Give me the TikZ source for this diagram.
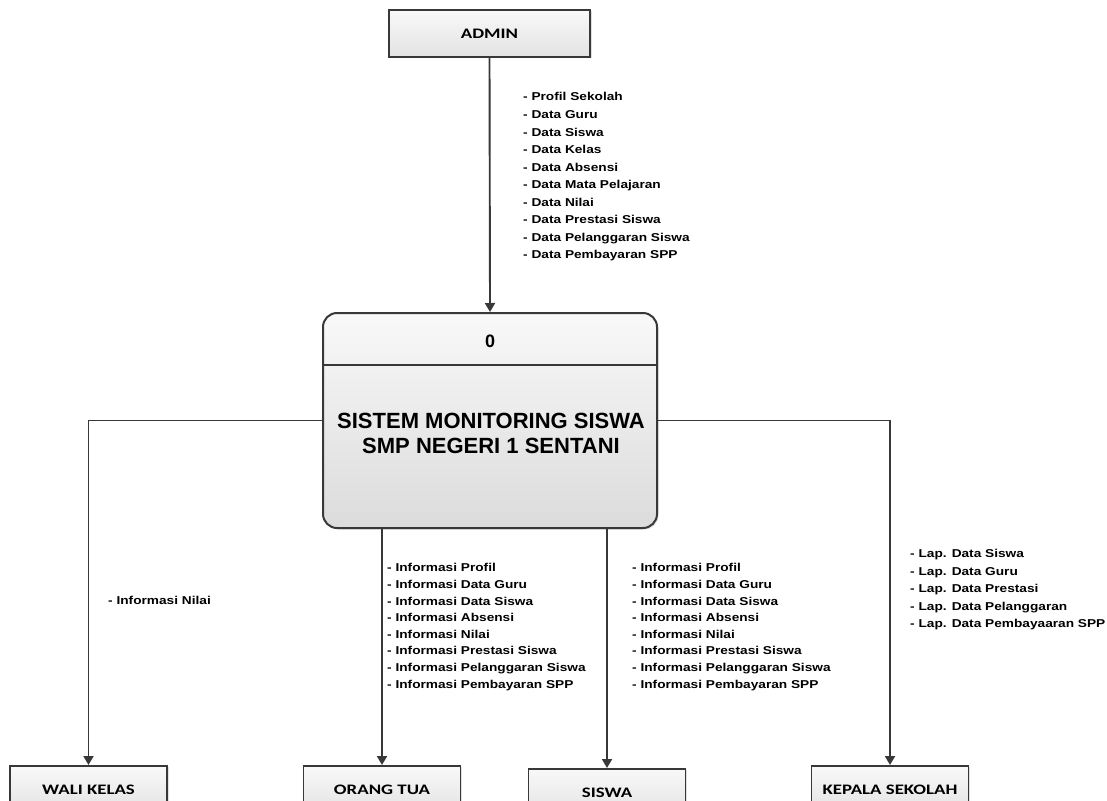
\documentclass[tikz,border=0pt]{standalone}
\usepackage{fontspec}
\usetikzlibrary{arrows.meta,positioning,shadows,calc}
\newfontfamily\lblfont{Liberation Sans}[FakeStretch=1.2]
\newfontfamily\boxfont{Carlito}[FakeStretch=1.3]
\newfontfamily\procfont{Liberation Sans}
\colorlet{linegray}{black!78}
\tikzset{
    boxsty/.style={draw=linegray,line width=1.9pt,rectangle,top color=gray!5,bottom color=gray!22,
        minimum width=157pt,minimum height=47pt,inner sep=0pt,
        font=\boxfont\bfseries\fontsize{14.5}{17}\selectfont,
        drop shadow={shadow xshift=1.5pt,shadow yshift=-1.5pt,opacity=0.25}},
    procsty/.style={draw=linegray,line width=2pt,rectangle,rounded corners=14pt,
        top color=gray!5,bottom color=gray!28,minimum width=334pt,minimum height=215pt,
        drop shadow={shadow xshift=1.5pt,shadow yshift=-1.5pt,opacity=0.25}},
    titlesty/.style={font=\procfont\bfseries\fontsize{22}{25}\selectfont,align=center,inner sep=0pt},
    liststy/.style={font=\lblfont\bfseries\fontsize{11.4}{16.6}\selectfont,align=left,inner sep=0pt,anchor=north west},
    flowsty/.style={draw=linegray,line width=1.9pt,-{Triangle[width=10pt,length=9pt]}},
}

\begin{document}
\begin{tikzpicture}[x=1pt,y=-1pt]
\useasboundingbox (0,0) rectangle (1107,800);

% external entities
\node (admin) [boxsty,minimum width=201pt] at (489.5,33.5) {ADMIN};
\node (wali) [boxsty,anchor=north] at (88.5,765) {WALI KELAS};
\node (ortu) [boxsty,anchor=north] at (382,765) {ORANG TUA};
\node (siswa) [boxsty,anchor=north] at (607,768) {SISWA};
\node (kepsek) [boxsty,anchor=north] at (890,765) {KEPALA SEKOLAH};

% process
\node (proc) [procsty] at (490,420.5) {};
\draw [linegray,line width=1.9pt] ($(proc.north west)+(0,53)$) -- ($(proc.north east)+(0,53)$);
\node (procnum) [titlesty,font=\procfont\bfseries\fontsize{18}{20}\selectfont] at ($(proc.north)+(0,29)$) {0};
\node (proctitle) [titlesty] at (491,433.5) {SISTEM MONITORING SISWA\\SMP NEGERI 1 SENTANI};

% flows
\draw [flowsty] (admin.south) -- (proc.north);
\draw [flowsty] (proc.west) -| (wali.north);
\draw [flowsty] (proc.east) -| (kepsek.north);
\draw [flowsty] (ortu.north |- proc.south) -- (ortu.north);
\draw [flowsty] (siswa.north |- proc.south) -- (siswa.north);

% flow labels
\node (adminlbl) [liststy,font=\lblfont\bfseries\fontsize{11.4}{17.55}\selectfont] at (523,92.5) {- Profil Sekolah\\- Data Guru\\- Data Siswa\\- Data Kelas\\- Data Absensi\\- Data Mata Pelajaran\\- Data Nilai\\- Data Prestasi Siswa\\- Data Pelanggaran Siswa\\- Data Pembayaran SPP};
\node (walilbl) [liststy] at (108,596.5) {- Informasi Nilai};
\node (ortulbl) [liststy] at (387,563.5) {- Informasi Profil\\- Informasi Data Guru\\- Informasi Data Siswa\\- Informasi Absensi\\- Informasi Nilai\\- Informasi Prestasi Siswa\\- Informasi Pelanggaran Siswa\\- Informasi Pembayaran SPP};
\node (siswalbl) [liststy] at (632,563.5) {- Informasi Profil\\- Informasi Data Guru\\- Informasi Data Siswa\\- Informasi Absensi\\- Informasi Nilai\\- Informasi Prestasi Siswa\\- Informasi Pelanggaran Siswa\\- Informasi Pembayaran SPP};
\node (kepseklbl) [liststy,font=\lblfont\bfseries\fontsize{11.4}{17.5}\selectfont] at (910,549.5) {- Lap. Data Siswa\\- Lap. Data Guru\\- Lap. Data Prestasi\\- Lap. Data Pelanggaran\\- Lap. Data Pembayaaran SPP};

\end{tikzpicture}
\end{document}
